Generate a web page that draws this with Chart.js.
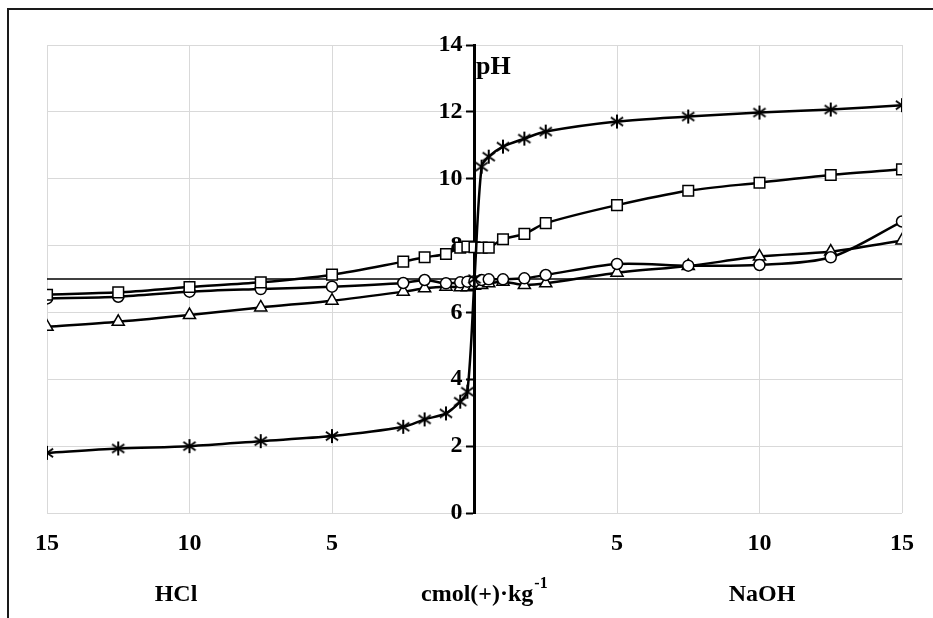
<!DOCTYPE html>
<html>
<head>
<meta charset="utf-8">
<script src="https://cdn.jsdelivr.net/npm/chart.js@4.4.0/dist/chart.umd.min.js"></script>
<style>
    html, body { margin: 0; padding: 0; background: #fff; }
</style>
</head>
<body>
<canvas id="phChart" width="933" height="618"></canvas>
<script>
// cmol(+)/kg added: negative = HCl, positive = NaOH
const doses = [-15, -12.5, -10, -7.5, -5, -2.5, -1.75, -1, -0.5, -0.25, 0,
               0.25, 0.5, 1, 1.75, 2.5, 5, 7.5, 10, 12.5, 15];

const starPH     = [1.80, 1.93, 2.00, 2.15, 2.30, 2.58, 2.80, 2.98, 3.33, 3.63, 7.00,
                    10.36, 10.66, 10.96, 11.20, 11.41, 11.71, 11.86, 11.98, 12.07, 12.20];
const squarePH   = [6.53, 6.60, 6.76, 6.90, 7.13, 7.52, 7.65, 7.75, 7.94, 7.97, 7.95,
                    7.94, 7.94, 8.19, 8.35, 8.67, 9.21, 9.64, 9.88, 10.11, 10.28];
const circlePH   = [6.42, 6.47, 6.62, 6.70, 6.77, 6.88, 6.97, 6.87, 6.90, 6.92, 6.93,
                    6.97, 6.99, 6.99, 7.02, 7.12, 7.45, 7.40, 7.42, 7.65, 8.72];
const trianglePH = [5.57, 5.72, 5.92, 6.15, 6.35, 6.62, 6.72, 6.77, 6.75, 6.75, 6.80,
                    6.82, 6.87, 6.92, 6.82, 6.87, 7.19, 7.39, 7.67, 7.82, 8.15];

const neutralX = [-15, 15];
const neutralPH = [7, 7];

const FONT = "'Liberation Serif', 'Times New Roman', serif";

// asterisk marker like Excel's star
function makeStar(size) {
    const c = document.createElement('canvas');
    c.width = size; c.height = size;
    const g = c.getContext('2d');
    g.strokeStyle = '#000';
    g.lineWidth = 2;
    const m = size / 2, r = size / 2 - 1;
    g.beginPath();
    g.moveTo(m, m - r); g.lineTo(m, m + r);
    g.moveTo(m - r * 0.87, m - r * 0.6); g.lineTo(m + r * 0.87, m + r * 0.6);
    g.moveTo(m - r * 0.87, m + r * 0.6); g.lineTo(m + r * 0.87, m - r * 0.6);
    g.stroke();
    return c;
}

function toPoints(xs, ys) {
    return xs.map((x, i) => ({ x: x, y: ys[i] }));
}

function series(values, style, radius) {
    return {
        data: toPoints(doses, values),
        borderColor: '#000',
        borderWidth: 2.5,
        tension: 0.3,
        pointStyle: style,
        pointRadius: radius,
        pointBackgroundColor: '#fff',
        pointBorderColor: '#000',
        pointBorderWidth: 1.5,
        order: 1
    };
}

// frame and free text labels
const decorPlugin = {
    id: 'decor',
    beforeDraw(chart) {
        const ctx = chart.ctx;
        ctx.save();
        ctx.fillStyle = '#fff';
        ctx.fillRect(0, 0, chart.width, chart.height);
        ctx.strokeStyle = '#1a1a1a';
        ctx.lineWidth = 2;
        ctx.beginPath();
        ctx.moveTo(8, 618);
        ctx.lineTo(8, 9);
        ctx.lineTo(933, 9);
        ctx.stroke();
        ctx.restore();
    },
    afterDraw(chart) {
        const ctx = chart.ctx;
        ctx.save();
        ctx.fillStyle = '#000';
        ctx.textBaseline = 'alphabetic';
        ctx.font = 'bold 26px ' + FONT;
        ctx.textAlign = 'left';
        ctx.fillText('pH', 476, 74);

        ctx.font = 'bold 24px ' + FONT;
        ctx.textAlign = 'center';
        ctx.fillText('HCl', 176, 601);
        ctx.fillText('NaOH', 762, 601);
        ctx.textAlign = 'left';
        const main = 'cmol(+)·kg';
        ctx.fillText(main, 421, 601);
        const w = ctx.measureText(main).width;
        ctx.font = 'bold 16px ' + FONT;
        ctx.fillText('-1', 421 + w + 1, 588);
        ctx.restore();
    }
};

const ctx = document.getElementById('phChart').getContext('2d');

new Chart(ctx, {
    type: 'line',
    data: {
        datasets: [
            series(starPH, makeStar(16), 8),
            series(squarePH, 'rect', 7.5),
            series(circlePH, 'circle', 5.5),
            series(trianglePH, 'triangle', 7),
            {
                data: toPoints(neutralX, neutralPH),
                borderColor: '#000',
                borderWidth: 1.5,
                pointRadius: 0,
                tension: 0,
                order: 5
            }
        ]
    },
    options: {
        responsive: false,
        animation: false,
        events: [],
        layout: { padding: { left: 47, top: 45, right: 31, bottom: 0 } },
        plugins: {
            legend: { display: false },
            tooltip: { enabled: false }
        },
        scales: {
            x: {
                type: 'linear',
                position: 'bottom',
                min: -15,
                max: 15,
                afterFit: (scale) => { scale.height = 105; },
                ticks: {
                    stepSize: 5,
                    padding: 16,
                    color: '#000',
                    font: { family: FONT, size: 24, weight: 'bold' },
                    callback: (v) => v === 0 ? '' : Math.abs(v)
                },
                grid: { color: '#d9d9d9', lineWidth: 1, drawTicks: false },
                border: { display: false }
            },
            y: {
                type: 'linear',
                position: { x: 0 },
                min: 0,
                max: 14,
                ticks: {
                    stepSize: 2,
                    color: '#000',
                    font: { family: FONT, size: 24, weight: 'bold' },
                    // labels sit right-aligned on the axis line; pad them off it
                    callback: (v) => v + '  '
                },
                grid: { color: '#d9d9d9', lineWidth: 1, tickColor: '#000', tickLength: 7, tickWidth: 2 },
                border: { display: true, color: '#000', width: 3 }
            }
        }
    },
    plugins: [decorPlugin]
});
</script>
</body>
</html>
